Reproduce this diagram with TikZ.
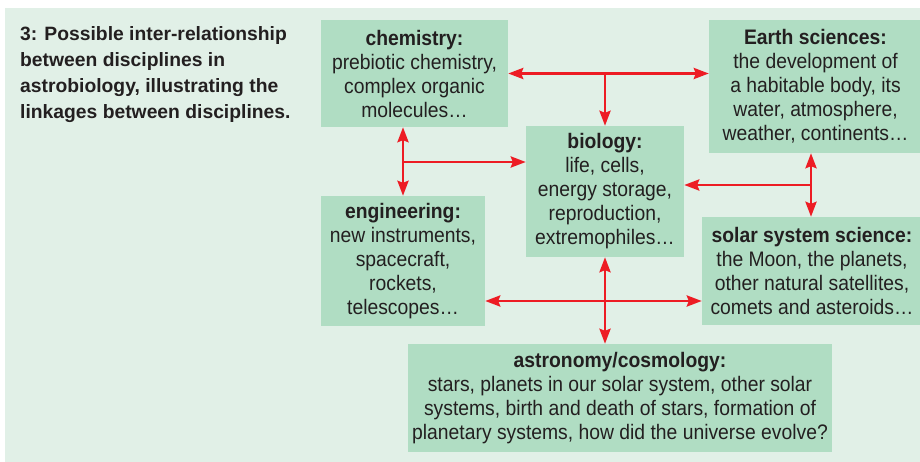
\documentclass[tikz,border=0pt]{standalone}
\usepackage{fontspec}
\setmainfont{Liberation Sans}
\newfontfamily\condfont{Liberation Sans}[FakeStretch=0.92]
\usetikzlibrary{arrows.meta}
\definecolor{panel}{RGB}{225,240,231}
\definecolor{boxfill}{RGB}{176,221,195}
\definecolor{arrred}{RGB}{237,28,36}
\definecolor{txt}{RGB}{35,31,32}
\tikzset{
  box/.style={fill=boxfill, draw=none, align=center, text=txt, inner sep=0pt,
    font=\condfont\fontsize{21}{24}\selectfont},
  link/.style={draw=arrred, line width=2.8pt,
    arrows={-Stealth[length=15pt,width=11pt,inset=2pt]}},
  blink/.style={link, arrows={Stealth[length=15pt,width=11pt,inset=2pt]-Stealth[length=15pt,width=11pt,inset=2pt]}}
}
\begin{document}
\begin{tikzpicture}[x=1pt,y=-1pt]
\useasboundingbox (0,0) rectangle (920,462);
\fill[panel] (5,8) rectangle (920,462);
\node[anchor=north west, align=left, text=txt, inner sep=0pt,
  font=\bfseries\fontsize{19.3}{26}\selectfont] (title) at (20,26)
  {3: Possible inter-relationship\\between disciplines in\\astrobiology, illustrating the\\linkages between disciplines.};
\node[box, minimum width=187pt, minimum height=107pt] (chem) at (414.5,73.5)
  {\textbf{chemistry:}\\prebiotic chemistry,\\complex organic\\molecules…};
\node[box, minimum width=213pt, minimum height=133pt] (earth) at (815.5,86.5)
  {\textbf{Earth sciences:}\\the development of\\a habitable body, its\\water, atmosphere,\\weather, continents…};
\node[box, minimum width=158pt, minimum height=131pt] (bio) at (605,191.5)
  {\textbf{biology:}\\life, cells,\\energy storage,\\reproduction,\\extremophiles…};
\node[box, minimum width=164pt, minimum height=130pt] (eng) at (403,261)
  {\textbf{engineering:}\\new instruments,\\spacecraft,\\rockets,\\telescopes…};
\node[box, minimum width=220pt, minimum height=108pt] (solar) at (812,271)
  {\textbf{solar system science:}\\the Moon, the planets,\\other natural satellites,\\comets and asteroids…};
\node[box, minimum width=424pt, minimum height=108pt] (astro) at (620,398)
  {\textbf{astronomy/cosmology:}\\stars, planets in our solar system, other solar\\systems, birth and death of stars, formation of\\planetary systems, how did the universe evolve?};
% junctions
\coordinate (j1) at (bio.north |- chem.east);
\coordinate (j2) at (403,162);
\coordinate (j3) at (811,185);
\coordinate (j4) at (605,301);
% connectors
\draw[blink] (chem.east) -- (earth.west |- chem.east);
\draw[link] (j1) -- (bio.north);
\draw[blink] (chem.south -| eng.north) -- (eng.north);
\draw[link] (j2) -- (bio.west |- j2);
\draw[blink] (earth.south -| j3) -- (solar.north -| j3);
\draw[link] (j3) -- (bio.east |- j3);
\draw[blink] (bio.south) -- (bio.south |- astro.north);
\draw[blink] (eng.east |- j4) -- (solar.west |- j4);
\end{tikzpicture}
\end{document}
